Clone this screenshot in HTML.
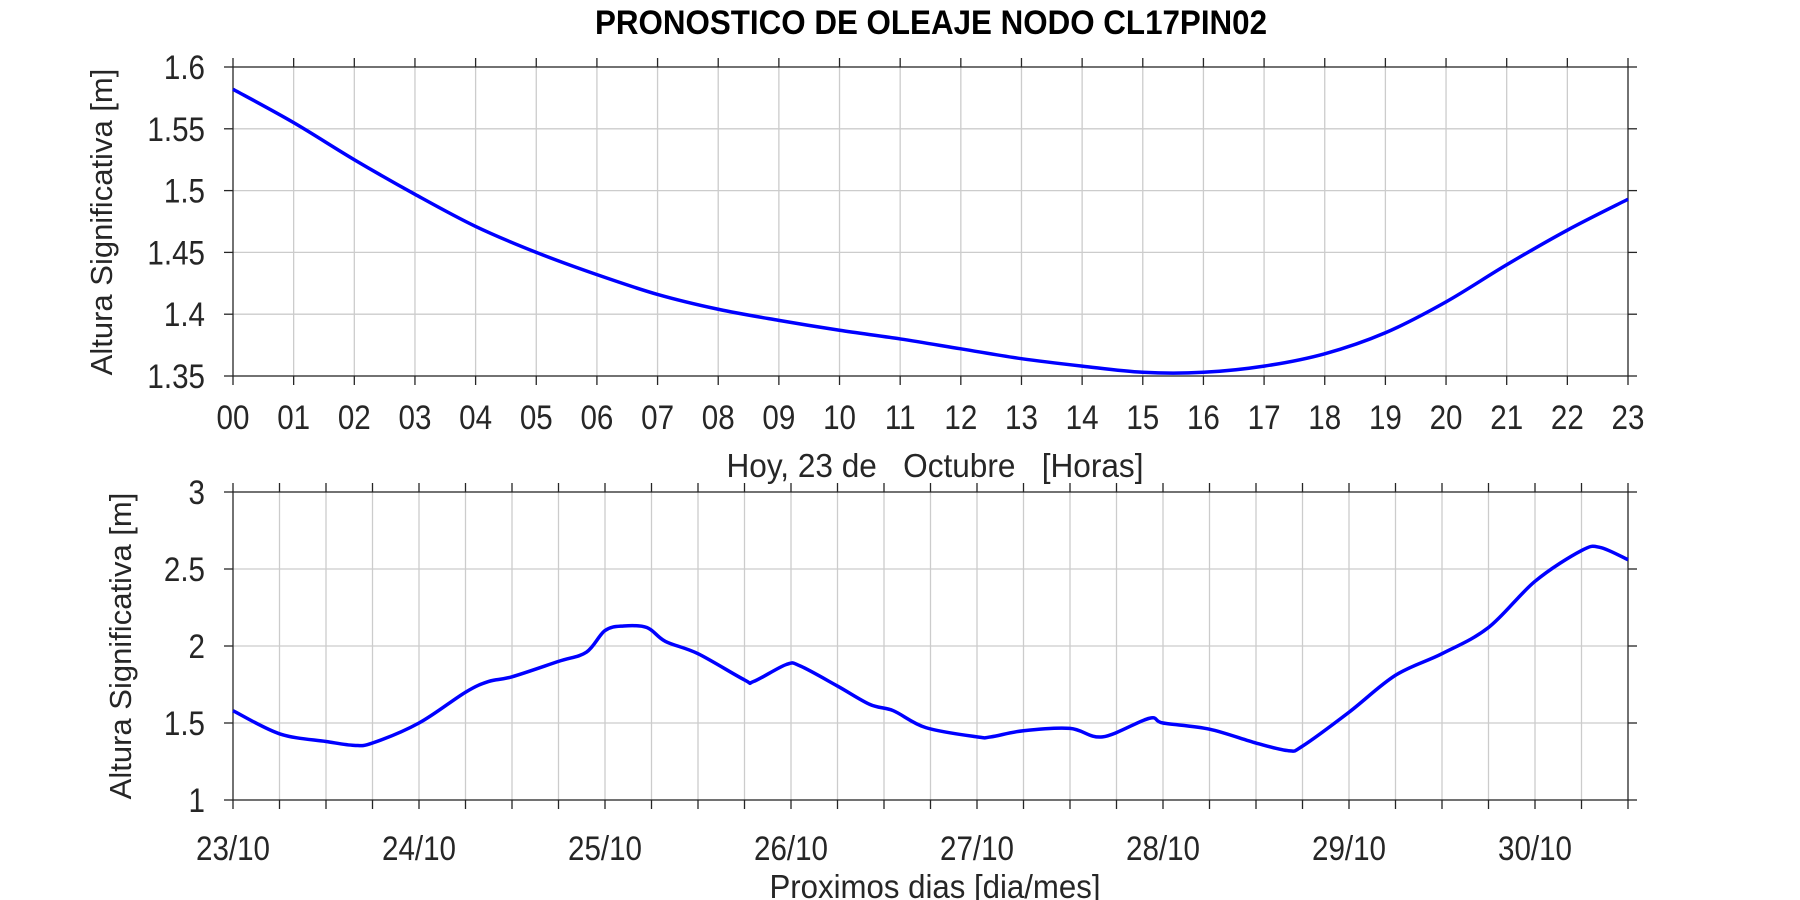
<!DOCTYPE html>
<html><head><meta charset="utf-8"><style>
html,body{margin:0;padding:0;background:#fff;}
svg{display:block;}
text{font-family:"Liberation Sans",sans-serif;fill:#262626;}
</style></head><body>
<svg id="s" width="1800" height="900" xmlns="http://www.w3.org/2000/svg">
<text x="931" y="34" text-anchor="middle" font-size="34" font-weight="bold" style="fill:#000" textLength="672" lengthAdjust="spacingAndGlyphs">PRONOSTICO DE OLEAJE NODO CL17PIN02</text>
<g id="g"></g>
<text x="935" y="477" text-anchor="middle" font-size="33" xml:space="preserve" textLength="417" lengthAdjust="spacingAndGlyphs">Hoy, 23 de   Octubre   [Horas]</text>
<text x="935" y="898" text-anchor="middle" font-size="33" textLength="331" lengthAdjust="spacingAndGlyphs">Proximos dias [dia/mes]</text>
<text transform="translate(112,222) rotate(-90)" text-anchor="middle" font-size="31">Altura Significativa [m]</text>
<text transform="translate(131,646) rotate(-90)" text-anchor="middle" font-size="31">Altura Significativa [m]</text>
</svg>
<script>
var g=document.getElementById('g'),h='';
var L=233,R=1628;
function line(x1,y1,x2,y2,c,w){h+='<line x1="'+x1+'" y1="'+y1+'" x2="'+x2+'" y2="'+y2+'" stroke="'+c+'" stroke-width="'+w+'"/>';}
function txt(x,y,s,a){h+='<text transform="translate('+x+','+y+') scale(0.87,1)" font-size="34" text-anchor="'+a+'">'+s+'</text>';}
function path(pts){
 var d='M'+pts[0][0]+','+pts[0][1];
 for(var i=0;i<pts.length-1;i++){var p0=pts[Math.max(0,i-1)],p1=pts[i],p2=pts[i+1],p3=pts[Math.min(pts.length-1,i+2)];
  d+=' C'+(p1[0]+(p2[0]-p0[0])/6)+','+(p1[1]+(p2[1]-p0[1])/6)+' '+(p2[0]-(p3[0]-p1[0])/6)+','+(p2[1]-(p3[1]-p1[1])/6)+' '+p2[0]+','+p2[1];}
 h+='<path d="'+d+'" fill="none" stroke="#0000ff" stroke-width="3.5" stroke-linejoin="round"/>';}
var T0=67,T1=376;
function ty(v){return T1-(v-1.35)/0.25*(T1-T0);}
var hx=function(i){return L+i*(R-L)/23;};
for(var i=0;i<=23;i++){var x=hx(i);if(i>0&&i<23)line(x,T0,x,T1,'#cccccc',1.3);}
var yv=[1.35,1.4,1.45,1.5,1.55,1.6];
yv.forEach(function(v){var y=ty(v);if(v>1.35&&v<1.6)line(L,y,R,y,'#cccccc',1.3);line(L-9,y,L,y,'#262626',1.3);line(R,y,R+9,y,'#262626',1.3);txt(205,y+12,String(v),'end');});
for(var i=0;i<=23;i++){var x=hx(i);line(x,T0-9,x,T0,'#262626',1.3);line(x,T1,x,T1+9,'#262626',1.3);txt(x,429,(i<10?'0':'')+i,'middle');}
h+='<rect x="'+L+'" y="'+T0+'" width="'+(R-L)+'" height="'+(T1-T0)+'" fill="none" stroke="#262626" stroke-width="1.3"/>';
var tv=[1.582,1.555,1.525,1.497,1.471,1.45,1.432,1.416,1.404,1.395,1.387,1.380,1.372,1.364,1.358,1.353,1.353,1.358,1.368,1.385,1.410,1.440,1.468,1.493];
path(tv.map(function(v,i){return [hx(i),ty(v)];}));
var B0=492,B1=800;
function by(v){return B1-(v-1)/2*(B1-B0);}
var bx=function(t){return L+t*(R-L)/30;};
for(var i=1;i<30;i++){line(bx(i),B0,bx(i),B1,'#cccccc',1.3);}
[1,1.5,2,2.5,3].forEach(function(v){var y=by(v);if(v>1&&v<3)line(L,y,R,y,'#cccccc',1.3);line(L-9,y,L,y,'#262626',1.3);line(R,y,R+9,y,'#262626',1.3);txt(205,y+12,String(v),'end');});
for(var i=0;i<=30;i++){var x=bx(i);line(x,B0-9,x,B0,'#262626',1.3);line(x,B1,x,B1+9,'#262626',1.3);}
for(var d=0;d<8;d++){txt(bx(d*4),860,(23+d)+'/10','middle');}
h+='<rect x="'+L+'" y="'+B0+'" width="'+(R-L)+'" height="'+(B1-B0)+'" fill="none" stroke="#262626" stroke-width="1.3"/>';
var bd=[[0,1.58],[1,1.43],[2,1.38],[2.6,1.355],[3,1.37],[4,1.50],[5,1.70],[5.5,1.77],[6,1.80],[7,1.90],[7.6,1.96],[8,2.10],[8.4,2.13],[8.9,2.12],[9.3,2.03],[10,1.95],[11,1.78],[11.2,1.77],[11.9,1.88],[12.2,1.87],[13,1.74],[13.7,1.62],[14.2,1.58],[14.9,1.47],[16,1.41],[16.3,1.41],[17,1.45],[18,1.465],[18.7,1.41],[19.7,1.53],[20,1.50],[21,1.46],[22,1.37],[22.7,1.32],[23,1.35],[24,1.57],[25,1.81],[26,1.95],[27,2.12],[28,2.42],[29,2.62],[29.4,2.64],[30,2.56]];
path(bd.map(function(p){return [bx(p[0]),by(p[1])];}));
g.innerHTML=h;
</script>
</body></html>
